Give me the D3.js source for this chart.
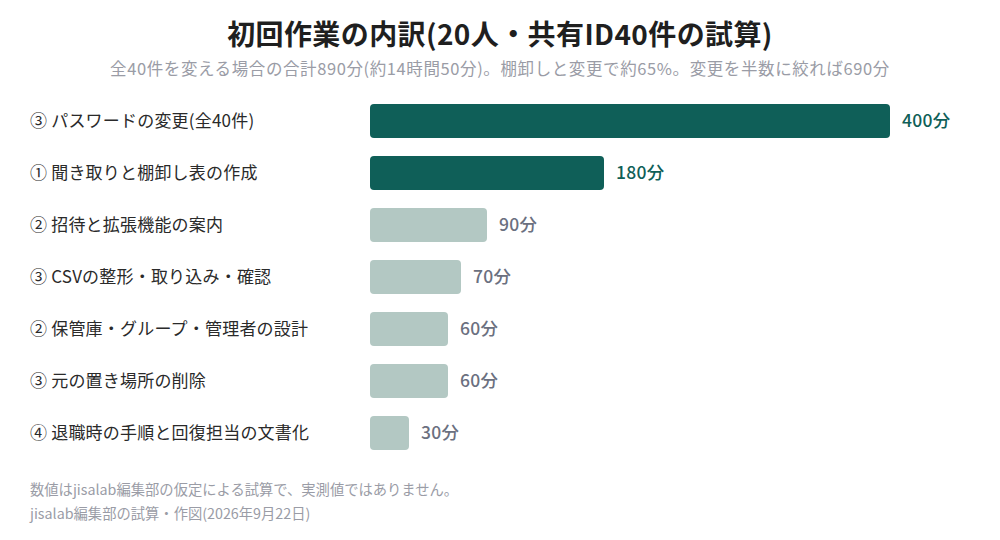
<!DOCTYPE html>
<html>
<head>
<meta charset="utf-8">
<script src="https://cdn.jsdelivr.net/npm/d3@7"></script>
<style>
  body { margin: 0; background: #fff; }
  svg { font-family: "Noto Sans CJK JP", "Noto Sans", sans-serif; }
</style>
</head>
<body>
<div id="chart"></div>
<script>
// data
const tasks = [
  '③ パスワードの変更(全40件)',
  '① 聞き取りと棚卸し表の作成',
  '② 招待と拡張機能の案内',
  '③ CSVの整形・取り込み・確認',
  '② 保管庫・グループ・管理者の設計',
  '③ 元の置き場所の削除',
  '④ 退職時の手順と回復担当の文書化'
]
const minutes = [400, 180, 90, 70, 60, 60, 30]
const highlighted = [true, true, false, false, false, false, false]

const title = '初回作業の内訳(20人・共有ID40件の試算)'
const subtitle = '全40件を変える場合の合計890分(約14時間50分)。棚卸しと変更で約65%。変更を半数に絞れば690分'
const notes = [
  '数値はjisalab編集部の仮定による試算で、実測値ではありません。',
  'jisalab編集部の試算・作図(2026年9月22日)'
]

const width = 1000
const height = 540
const barLeft = 370

const svg = d3.select('#chart')
  .append('svg')
  .attr('width', width)
  .attr('height', height)

svg.append('text')
  .attr('x', width / 2)
  .attr('y', 45)
  .attr('text-anchor', 'middle')
  .attr('font-size', '28px')
  .attr('font-weight', 700)
  .attr('letter-spacing', '0.4px')
  .attr('fill', '#1f1f1f')
  .text(title)

svg.append('text')
  .attr('x', width / 2)
  .attr('y', 75)
  .attr('text-anchor', 'middle')
  .attr('font-size', '16.5px')
  .attr('letter-spacing', '0.6px')
  .attr('fill', '#9a9ca6')
  .text(subtitle)

const x = d3.scaleLinear()
  .domain([0, 400])
  .range([barLeft, 890])

const y = d3.scaleBand()
  .domain(tasks)
  .range([95, 459])
  .paddingInner(0.346)
  .paddingOuter(0.173)

const rows = svg.selectAll('.row')
  .data(tasks)
  .enter()
  .append('g')
  .attr('class', 'row')

// category labels on the left
rows.append('text')
  .attr('x', 30)
  .attr('y', d => y(d) + y.bandwidth() / 2 - 1.5)
  .attr('dominant-baseline', 'central')
  .attr('font-size', '17px')
  .attr('letter-spacing', '0.2px')
  .attr('fill', '#2a2a2a')
  .text(d => d)

rows.append('rect')
  .attr('x', x(0))
  .attr('y', d => y(d))
  .attr('width', (d, i) => x(minutes[i]) - x(0))
  .attr('height', y.bandwidth())
  .attr('rx', 4)
  .attr('fill', (d, i) => highlighted[i] ? '#0f5f58' : '#b3c8c3')

// value labels after the bar end
rows.append('text')
  .attr('x', (d, i) => x(minutes[i]) + 12)
  .attr('y', d => y(d) + y.bandwidth() / 2 - 1.5)
  .attr('dominant-baseline', 'central')
  .attr('font-size', '17.5px')
  .attr('font-weight', 500)
  .attr('letter-spacing', '0.3px')
  .attr('fill', (d, i) => highlighted[i] ? '#0f5f58' : '#6b7080')
  .text((d, i) => minutes[i] + '分')

svg.selectAll('.note')
  .data(notes)
  .enter()
  .append('text')
  .attr('class', 'note')
  .attr('x', 30)
  .attr('y', (d, i) => 488 + i * 24)
  .attr('dominant-baseline', 'central')
  .attr('font-size', '14.3px')
  .attr('fill', '#9a9ca6')
  .text(d => d)
</script>
</body>
</html>
